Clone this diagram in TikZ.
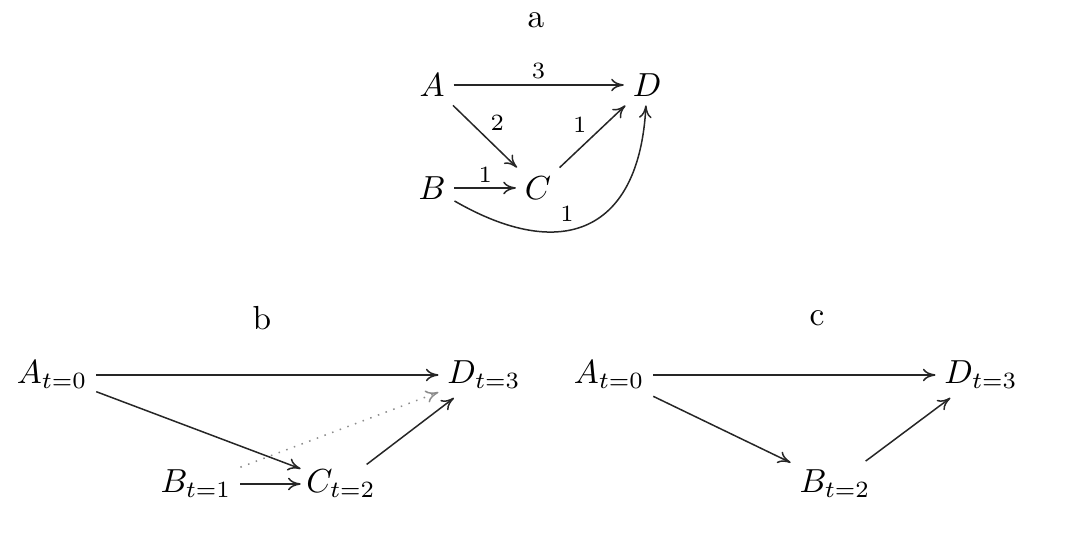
\documentclass[tikz,border=0pt]{standalone}
\usetikzlibrary{arrows.meta}
\begin{document}
\begin{tikzpicture}[x=0.3pt,y=0.3pt,
  vert/.style={inner sep=2.5pt},
  lab/.style={font=\scriptsize,inner sep=1.5pt},
  tip/.style={-{Computer Modern Rightarrow[length=3.8pt,width=3.8pt]}},
  edge/.style={tip,line width=0.45pt,draw=black!85},
  ghost/.style={tip,line width=0.45pt,draw=black!45,dotted},
  title/.style={inner sep=0pt}]
\useasboundingbox (0,0) rectangle (1080,-534);
% ---- a ----
\node[title] (ta) at (536,-20) {a};
\node[vert] (A) at (432,-85) {$A$};
\node[vert] (D) at (647,-85) {$D$};
\node[vert] (B) at (432,-188) {$B$};
\node[vert] (C) at (538,-188) {$C$};
\draw[edge] (A) -- node[lab,above] {3} (D);
\draw[edge] (A) -- node[lab,above right,pos=0.55,xshift=-1pt,yshift=1pt] {2} (C);
\draw[edge] (C) -- node[lab,above left,pos=0.42,xshift=1.5pt,yshift=1pt] {1} (D);
\draw[edge] (B) -- node[lab,above] {1} (C);
\draw[edge] (B) to[out=-30,in=-93,looseness=1.5] node[lab,pos=0.4,above,yshift=1pt] {1} (D);
% ---- b ----
\node[title] (tb) at (262,-318) {b};
\node[vert] (bA) at (52,-375) {$A_{t=0}$};
\node[vert] (bD) at (484,-375) {$D_{t=3}$};
\node[vert] (bB) at (196,-484) {$B_{t=1}$};
\node[vert,inner sep=1.5pt] (bC) at (341,-484) {$C_{t=2}$};
\draw[edge] (bA) -- (bC);
\draw[edge] (bA) -- (bD);
\draw[edge] (bB) -- (bC);
\draw[edge] (bC) -- (bD);
\draw[ghost] (bB) -- (bD);
% ---- c ----
\node[title] (tc) at (817,-318) {c};
\node[vert] (cA) at (609,-375) {$A_{t=0}$};
\node[vert] (cD) at (981,-375) {$D_{t=3}$};
\node[vert] (cB) at (835,-484) {$B_{t=2}$};
\draw[edge] (cA) -- (cD);
\draw[edge] (cA) -- (cB);
\draw[edge] (cB) -- (cD);
\end{tikzpicture}
\end{document}
